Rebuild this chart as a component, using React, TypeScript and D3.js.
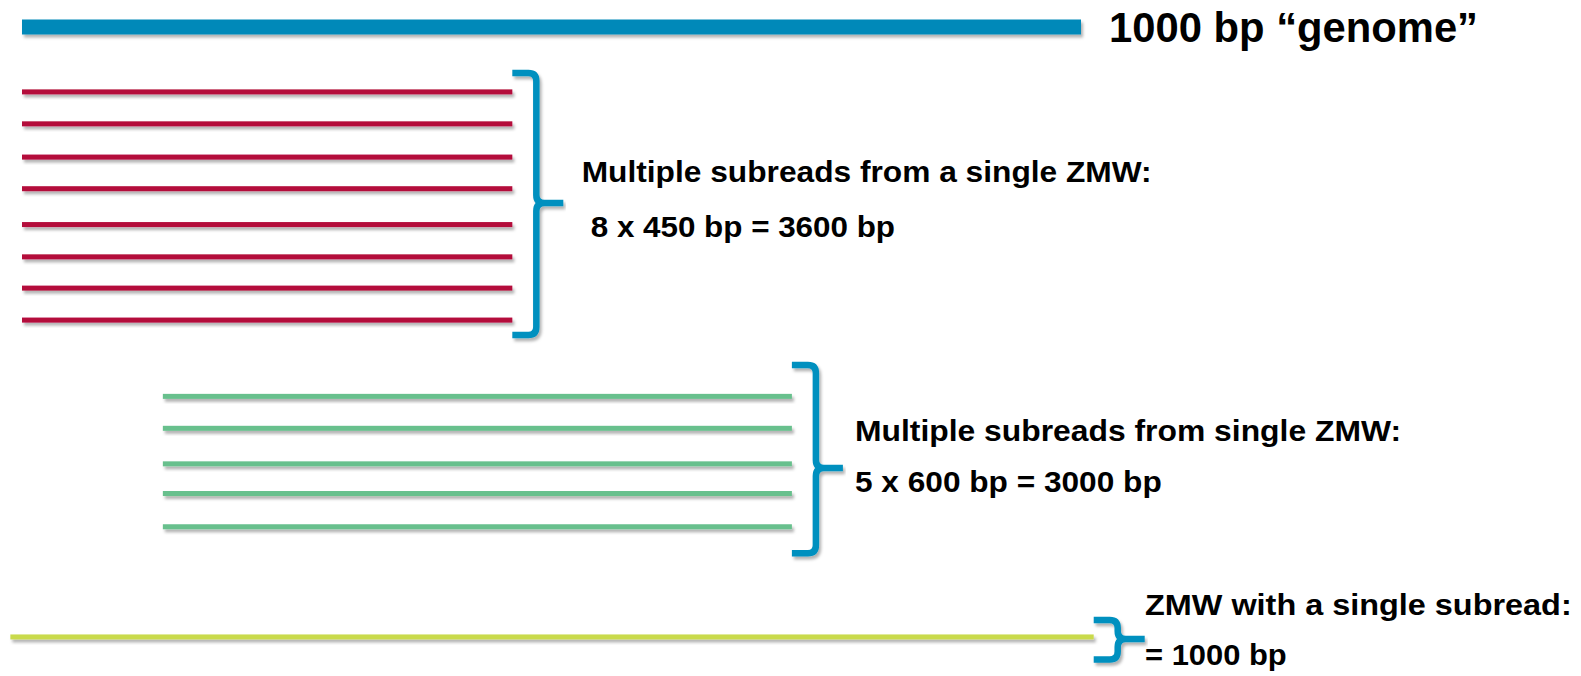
import React from "react";
import * as d3 from "d3";

// ---- data ----
const genome = { label: "1000 bp \u201Cgenome\u201D", start: 0, end: 1000, track: 0 };

// read groups: each read has [start, end] in bp-ish units along the genome axis
const redReads = [
  [0, 463], [0, 463], [0, 463], [0, 463], [0, 463], [0, 463], [0, 463], [0, 463],
];
const redTracks = [1.99, 2.97, 3.99, 4.96, 6.06, 7.05, 8.01, 8.99];

const greenReads = [
  [133, 727], [133, 727], [133, 727], [133, 727], [133, 727],
];
const greenTracks = [11.33, 12.31, 13.40, 14.31, 15.33];

const yellowReads = [[-11, 1012]];
const yellowTracks = [18.71];

const labels = [
  ["Multiple subreads from a single ZMW:", " 8 x 450 bp = 3600 bp"],
  ["Multiple subreads from single ZMW:", "5 x 600 bp = 3000 bp"],
  ["ZMW with a single subread:", "= 1000 bp"],
];

// brace spans in track units [top, tip, bottom]
const braceSpans = [
  [1.41, 5.40, 9.45],
  [10.37, 13.53, 16.14],
  [18.19, 18.77, 19.40],
];
const braceX = [463, 727, 1012];

const W = 1581;
const H = 676;

const x = d3.scaleLinear().domain([0, 1000]).range([22, 1081]);
const y = d3.scaleLinear().domain([0, 20]).range([27, 27 + 20 * 32.6]);

const COLORS = {
  genome: "#0089b9",
  red: "#b40c3b",
  green: "#67c08d",
  yellow: "#c9da4c",
  brace: "#0090bf",
};

function bracePath(x0: number, top: number, tip: number, bottom: number) {
  const xv = x0 + 24;
  const xt = x0 + 51;
  const r = 8;
  const p = d3.path();
  p.moveTo(x0, top);
  p.lineTo(xv - r, top);
  p.quadraticCurveTo(xv, top, xv, top + r);
  p.lineTo(xv, tip - r);
  p.quadraticCurveTo(xv, tip, xv + r, tip);
  p.lineTo(xt, tip);
  p.moveTo(xv + r, tip);
  p.quadraticCurveTo(xv, tip, xv, tip + r);
  p.lineTo(xv, bottom - r);
  p.quadraticCurveTo(xv, bottom, xv - r, bottom);
  p.lineTo(x0, bottom);
  return p.toString();
}

const textStyle: React.CSSProperties = {
  fontFamily: "'Liberation Sans', Arial, sans-serif",
  fontWeight: 700,
};

export default function App() {
  const groups = [
    { reads: redReads, tracks: redTracks, color: COLORS.red },
    { reads: greenReads, tracks: greenTracks, color: COLORS.green },
    { reads: yellowReads, tracks: yellowTracks, color: COLORS.yellow },
  ];
  const labelPos = [
    { x: 581.7, x2: 582, y1: 182.3, y2: 237.3, w1: 570, w2: 313 },
    { x: 855, x2: 855, y1: 440.7, y2: 492.3, w1: 546, w2: 306.7 },
    { x: 1145, x2: 1145, y1: 615, y2: 665, w1: 426.7, w2: 141.7 },
  ];
  const barH = 5;
  return (
    <svg
      width={W}
      height={H}
      viewBox={`0 0 ${W} ${H}`}
      style={{ position: "absolute", left: 0, top: 0, display: "block", background: "#fff" }}
    >
      <defs>
        <filter id="sh" x="-5%" y="-50%" width="110%" height="250%">
          <feDropShadow dx="2" dy="3" stdDeviation="1.6" floodColor="#000" floodOpacity="0.3" />
        </filter>
      </defs>

      {/* genome bar */}
      <rect
        x={x(genome.start)}
        y={y(genome.track) - 7.5}
        width={x(genome.end) - x(genome.start)}
        height={15}
        fill={COLORS.genome}
        filter="url(#sh)"
      />
      <text x={1109} y={41.7} fontSize={42} style={textStyle} textLength={369} lengthAdjust="spacingAndGlyphs">
        {genome.label}
      </text>

      {groups.map((g, gi) => (
        <g key={gi}>
          {g.reads.map((r, i) => (
            <rect
              key={i}
              x={x(r[0])}
              y={y(g.tracks[i]) - barH / 2}
              width={x(r[1]) - x(r[0])}
              height={barH}
              fill={g.color}
              filter="url(#sh)"
            />
          ))}
          <path
            d={bracePath(
              x(braceX[gi]),
              y(braceSpans[gi][0]),
              y(braceSpans[gi][1]),
              y(braceSpans[gi][2])
            )}
            fill="none"
            stroke={COLORS.brace}
            strokeWidth={6.5}
            strokeLinecap="butt"
            filter="url(#sh)"
          />
          <text
            x={labelPos[gi].x}
            y={labelPos[gi].y1}
            fontSize={29}
            style={textStyle}
            textLength={labelPos[gi].w1}
            lengthAdjust="spacingAndGlyphs"
          >
            {labels[gi][0]}
          </text>
          <text
            x={labelPos[gi].x2}
            y={labelPos[gi].y2}
            fontSize={29}
            style={textStyle}
            textLength={labelPos[gi].w2}
            lengthAdjust="spacingAndGlyphs"
            xmlSpace="preserve"
          >
            {labels[gi][1]}
          </text>
        </g>
      ))}
    </svg>
  );
}
